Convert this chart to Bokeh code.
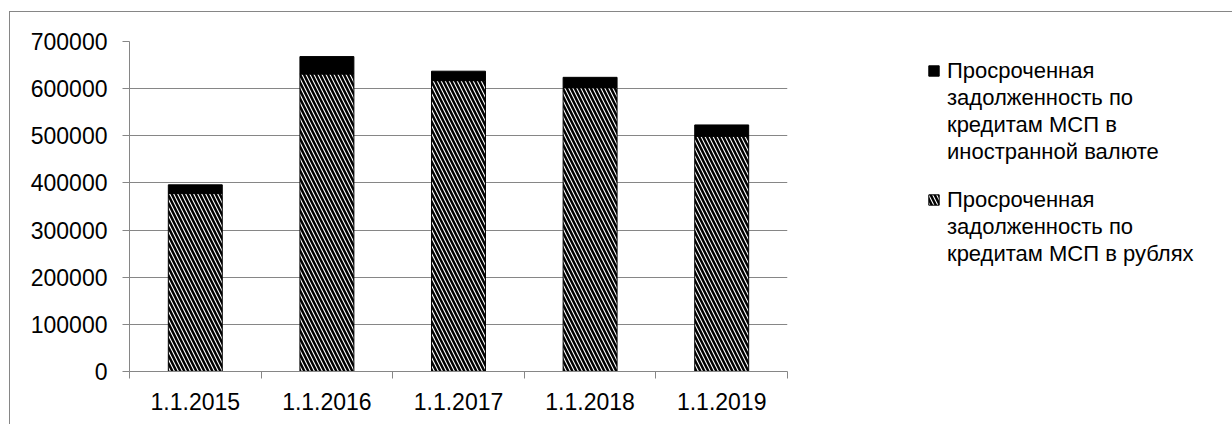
from bokeh.plotting import figure
from bokeh.layouts import row
from bokeh.models import ColumnDataSource, FixedTicker, Legend, LegendItem, Range1d
from bokeh.embed import file_html
from bokeh.resources import INLINE

categories = ["1.1.2015", "1.1.2016", "1.1.2017", "1.1.2018", "1.1.2019"]
rub = [378000, 631000, 617000, 602000, 499000]
fx = [18000, 37000, 20000, 22000, 24000]
y_ticks = [0, 100000, 200000, 300000, 400000, 500000, 600000, 700000]
label_fx = ["Просроченная", "задолженность по", "кредитам МСП в", "иностранной валюте"]
label_rub = ["Просроченная", "задолженность по", "кредитам МСП в рублях"]

xs = [i + 0.5 for i in range(len(categories))]
top_total = [r + f for r, f in zip(rub, fx)]
src = ColumnDataSource(dict(x=xs, rub=rub, fx=fx, total=top_total))

GRAY = "#868686"
FONT = "Liberation Sans"
HATCH = dict(fill_color="white", line_color="black", line_width=1,
             hatch_pattern="\\", hatch_color="black", hatch_weight=2.5, hatch_scale=8)
SOLID = dict(fill_color="black", line_color="black", line_width=1)

p = figure(width=790, height=412, output_backend="svg", toolbar_location=None,
           x_range=Range1d(0, len(categories)), y_range=Range1d(0, 700000),
           min_border_left=119, min_border_right=13, min_border_top=29, min_border_bottom=53)
p.outline_line_color = None
p.background_fill_color = "white"
p.border_fill_color = "white"

r_rub = p.vbar(x="x", bottom=0, top="rub", width=0.41, source=src, **HATCH)
r_fx = p.vbar(x="x", bottom="rub", top="total", width=0.41, source=src, **SOLID)

# y axis
p.yaxis.ticker = FixedTicker(ticks=y_ticks)
p.yaxis.axis_line_color = GRAY
p.yaxis.major_tick_line_color = GRAY
p.yaxis.major_tick_out = 7
p.yaxis.major_tick_in = 0
p.yaxis.minor_tick_line_color = None
p.yaxis.major_label_standoff = 15
p.yaxis.major_label_text_font = FONT
p.yaxis.major_label_text_font_size = "23px"
p.yaxis.major_label_text_color = "black"
p.yaxis.formatter.use_scientific = False

# x axis
p.xaxis.ticker = FixedTicker(ticks=xs, minor_ticks=list(range(len(categories) + 1)))
p.xaxis.major_label_overrides = {x: c for x, c in zip(xs, categories)}
p.xaxis.axis_line_color = GRAY
p.xaxis.major_tick_line_color = None
p.xaxis.major_tick_out = 0
p.xaxis.major_tick_in = 0
p.xaxis.minor_tick_line_color = GRAY
p.xaxis.minor_tick_out = 7
p.xaxis.minor_tick_in = 0
p.xaxis.major_label_standoff = 14
p.xaxis.major_label_text_font = FONT
p.xaxis.major_label_text_font_size = "23px"
p.xaxis.major_label_text_color = "black"

p.xgrid.grid_line_color = None
p.ygrid.grid_line_color = GRAY
p.ygrid.grid_line_width = 1

# legend panel (its own figure; the bars drawn here fall outside its view range)
p2 = figure(width=432, height=412, output_backend="svg", toolbar_location=None,
            x_axis_type=None, y_axis_type=None,
            x_range=Range1d(-20, -19), y_range=Range1d(-2000000, -1000000),
            min_border=0)
p2.outline_line_color = None
p2.grid.visible = False
p2.background_fill_color = "white"
p2.border_fill_color = "white"
d_fx = p2.vbar(x="x", bottom="rub", top="total", width=0.41, source=src, **SOLID)
d_rub = p2.vbar(x="x", bottom=0, top="rub", width=0.41, source=src, **HATCH)
d_none = p2.vbar(x="x", bottom=0, top="rub", width=0.41, source=src,
                 fill_alpha=0, line_alpha=0)


def make_legend(lines, rend, loc):
    items = [LegendItem(label=lines[0], renderers=[rend])]
    items += [LegendItem(label=t, renderers=[d_none]) for t in lines[1:]]
    lg = Legend(items=items, location=loc, orientation="vertical")
    lg.border_line_color = None
    lg.background_fill_alpha = 0
    lg.label_text_font = FONT
    lg.label_text_font_size = "22px"
    lg.label_text_color = "black"
    lg.glyph_width = 13
    lg.glyph_height = 13
    lg.label_height = 27
    lg.spacing = 0
    lg.padding = 0
    lg.margin = 0
    lg.label_standoff = 7
    return lg


p2.add_layout(make_legend(label_fx, d_fx, (127, 206)), "center")
p2.add_layout(make_legend(label_rub, d_rub, (127, 104)), "center")

lay = row(p, p2)
lay.margin = (11, 0, 0, 9)
lay.styles = {"border": "1px solid " + GRAY}

open("out.html", "w").write(file_html(lay, INLINE))
